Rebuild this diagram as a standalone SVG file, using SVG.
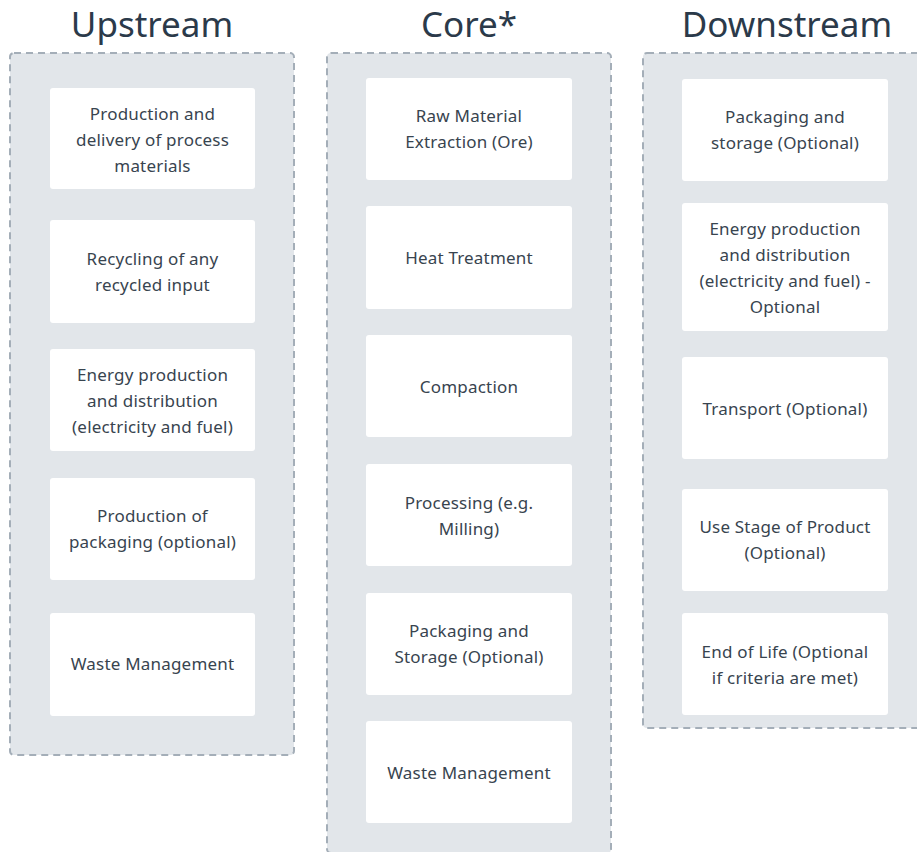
<svg xmlns="http://www.w3.org/2000/svg" width="917" height="852" viewBox="0 0 917 852">
<style>
.title{font-family:"Noto Sans","DejaVu Sans",sans-serif;font-size:35px;fill:#2b3a4a;text-anchor:middle}
.cont{fill:#e2e6ea;stroke:#a4aeb8;stroke-width:2;stroke-dasharray:7 5}
.box{fill:#ffffff}
.lbl{font-family:"Noto Sans","DejaVu Sans",sans-serif;font-size:17px;letter-spacing:0.2px;fill:#38444f;text-anchor:middle}
</style>
<rect width="917" height="852" fill="#ffffff"/>
<g id="titles">
<text class="title" x="152" y="37">Upstream</text>
<text class="title" x="469" y="37">Core*</text>
<text class="title" x="787" y="37">Downstream</text>
</g>
<g id="upstream">
<rect class="cont" x="10" y="53" width="284" height="702" rx="4"/>
<g id="u1"><rect class="box" x="50" y="88" width="205" height="101" rx="3"/><text class="lbl" x="152.5"><tspan x="152.5" y="120">Production and</tspan><tspan x="152.5" y="146">delivery of process</tspan><tspan x="152.5" y="172">materials</tspan></text></g>
<g id="u2"><rect class="box" x="50" y="220" width="205" height="103" rx="3"/><text class="lbl"><tspan x="152.5" y="265">Recycling of any</tspan><tspan x="152.5" y="291">recycled input</tspan></text></g>
<g id="u3"><rect class="box" x="50" y="349" width="205" height="102" rx="3"/><text class="lbl"><tspan x="152.5" y="381">Energy production</tspan><tspan x="152.5" y="407">and distribution</tspan><tspan x="152.5" y="433">(electricity and fuel)</tspan></text></g>
<g id="u4"><rect class="box" x="50" y="478" width="205" height="102" rx="3"/><text class="lbl"><tspan x="152.5" y="522">Production of</tspan><tspan x="152.5" y="548">packaging (optional)</tspan></text></g>
<g id="u5"><rect class="box" x="50" y="613" width="205" height="103" rx="3"/><text class="lbl"><tspan x="152.5" y="670">Waste Management</tspan></text></g>
</g>
<g id="core">
<rect class="cont" x="327" y="53" width="284" height="800" rx="4"/>
<g id="c1"><rect class="box" x="366" y="78" width="206" height="102" rx="3"/><text class="lbl"><tspan x="469" y="122">Raw Material</tspan><tspan x="469" y="148">Extraction (Ore)</tspan></text></g>
<g id="c2"><rect class="box" x="366" y="206" width="206" height="103" rx="3"/><text class="lbl"><tspan x="469" y="264">Heat Treatment</tspan></text></g>
<g id="c3"><rect class="box" x="366" y="335" width="206" height="102" rx="3"/><text class="lbl"><tspan x="469" y="393">Compaction</tspan></text></g>
<g id="c4"><rect class="box" x="366" y="464" width="206" height="102" rx="3"/><text class="lbl"><tspan x="469" y="509">Processing (e.g.</tspan><tspan x="469" y="535">Milling)</tspan></text></g>
<g id="c5"><rect class="box" x="366" y="593" width="206" height="102" rx="3"/><text class="lbl"><tspan x="469" y="637">Packaging and</tspan><tspan x="469" y="663">Storage (Optional)</tspan></text></g>
<g id="c6"><rect class="box" x="366" y="721" width="206" height="102" rx="3"/><text class="lbl"><tspan x="469" y="779">Waste Management</tspan></text></g>
</g>
<g id="downstream">
<rect class="cont" x="643" y="53" width="290" height="675" rx="4"/>
<g id="d1"><rect class="box" x="682" y="79" width="206" height="102" rx="3"/><text class="lbl"><tspan x="785" y="123">Packaging and</tspan><tspan x="785" y="149">storage (Optional)</tspan></text></g>
<g id="d2"><rect class="box" x="682" y="203" width="206" height="128" rx="3"/><text class="lbl"><tspan x="785" y="235">Energy production</tspan><tspan x="785" y="261">and distribution</tspan><tspan x="785" y="287">(electricity and fuel) -</tspan><tspan x="785" y="313">Optional</tspan></text></g>
<g id="d3"><rect class="box" x="682" y="357" width="206" height="102" rx="3"/><text class="lbl"><tspan x="785" y="415">Transport (Optional)</tspan></text></g>
<g id="d4"><rect class="box" x="682" y="489" width="206" height="102" rx="3"/><text class="lbl"><tspan x="785" y="533">Use Stage of Product</tspan><tspan x="785" y="559">(Optional)</tspan></text></g>
<g id="d5"><rect class="box" x="682" y="613" width="206" height="102" rx="3"/><text class="lbl"><tspan x="785" y="658">End of Life (Optional</tspan><tspan x="785" y="684">if criteria are met)</tspan></text></g>
</g>
</svg>
